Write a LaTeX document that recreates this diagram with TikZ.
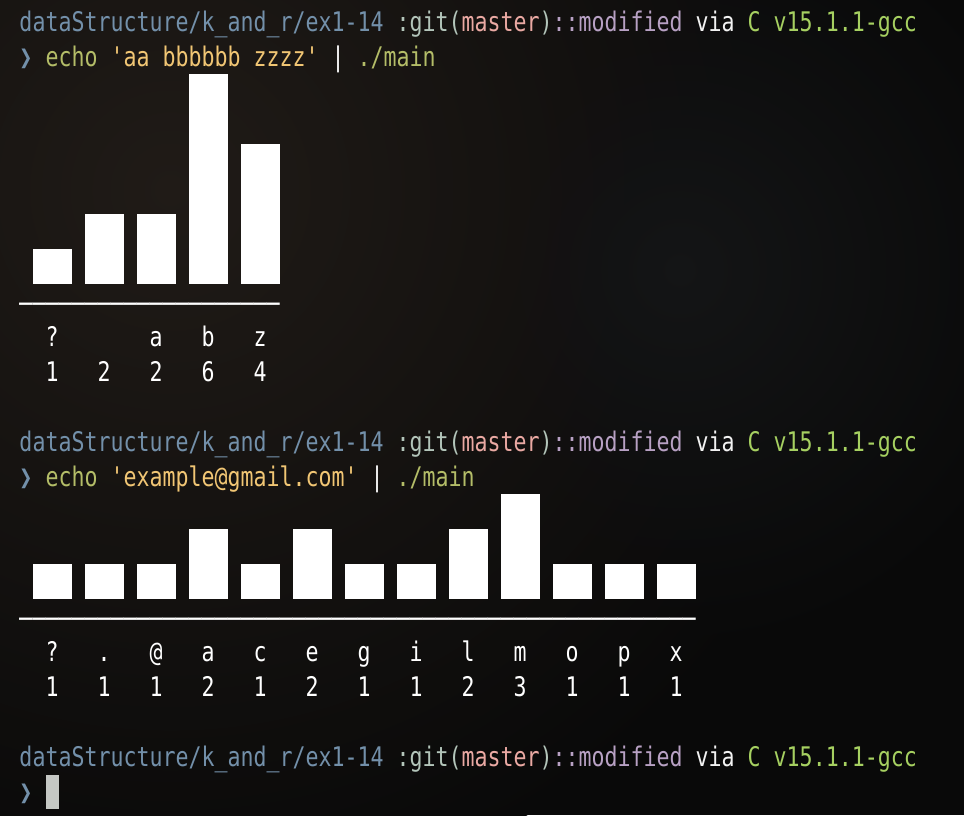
\documentclass[tikz,border=0pt]{standalone}
\usepackage{fontspec}
\newfontfamily\term[FakeStretch=0.8,WordSpace={1,0,0},Ligatures=ResetAll]{DejaVu Sans Mono}
\definecolor{bg}{HTML}{090909}
\definecolor{warm}{HTML}{201B17}
\definecolor{cool}{HTML}{141516}
\definecolor{pathc}{HTML}{7390AA}
\definecolor{gitc}{HTML}{B3C5BA}
\definecolor{masterc}{HTML}{EAA9A3}
\definecolor{modc}{HTML}{B8A1C4}
\definecolor{viac}{HTML}{F2F2F2}
\definecolor{langc}{HTML}{A6D061}
\definecolor{echoc}{HTML}{B4BD68}
\definecolor{strc}{HTML}{F1C674}
\definecolor{cursorc}{HTML}{C5C8C4}
\begin{document}
\begin{tikzpicture}[x=1pt,y=-1pt,
  txt/.style={anchor=base west,inner sep=0pt,outer sep=0pt,text=white,font=\term\fontsize{27}{35}\selectfont},
  bar/.style={fill=white,draw=none}]
\useasboundingbox (0,0) rectangle (964,815);
\fill[bg] (0,0) rectangle (964,815);
\shade[blend mode=lighten,inner color=warm,outer color=bg] (170,190) circle (720);
\shade[blend mode=lighten,inner color=cool,outer color=bg] (680,270) circle (380);
% ---- first command ----
\node[txt,text=pathc] (prompt1) at (19.5,31.5) {dataStructure/k\_and\_r/ex1-14 \textcolor{gitc}{:git(}\textcolor{masterc}{master}\textcolor{gitc}{)}\textcolor{modc}{::modified} \textcolor{viac}{via} \textcolor{langc}{C v15.1.1-gcc}};
\node[txt,text=pathc] (cmd1) at (19.5,66.5) {❯ \textcolor{echoc}{echo} \textcolor{strc}{'aa bbbbbb zzzz'} \textcolor{white}{|} \textcolor{echoc}{./main}};
\foreach \h [count=\i from 0] in {1,2,2,6,4}
  \fill[bar] (32.5+52*\i,284) rectangle (71.5+52*\i,284-35*\h);
\node[txt] (sep1) at (19.5,313) {────────────────────};
\foreach \c/\n [count=\i from 0] in {?/1,{}/2,a/2,b/6,z/4}{
  \node[txt] (lab1-\i) at (45.5+52*\i,346.5) {\c};
  \node[txt] (num1-\i) at (45.5+52*\i,381.5) {\n};
}
% ---- second command ----
\node[txt,text=pathc] (prompt2) at (19.5,451.5) {dataStructure/k\_and\_r/ex1-14 \textcolor{gitc}{:git(}\textcolor{masterc}{master}\textcolor{gitc}{)}\textcolor{modc}{::modified} \textcolor{viac}{via} \textcolor{langc}{C v15.1.1-gcc}};
\node[txt,text=pathc] (cmd2) at (19.5,486.5) {❯ \textcolor{echoc}{echo} \textcolor{strc}{'example@gmail.com'} \textcolor{white}{|} \textcolor{echoc}{./main}};
\foreach \h [count=\i from 0] in {1,1,1,2,1,2,1,1,2,3,1,1,1}
  \fill[bar] (32.5+52*\i,599) rectangle (71.5+52*\i,599-35*\h);
\node[txt] (sep2) at (19.5,628) {────────────────────────────────────────────────────};
\foreach \c/\n [count=\i from 0] in {?/1,./1,@/1,a/2,c/1,e/2,g/1,i/1,l/2,m/3,o/1,p/1,x/1}{
  \node[txt] (lab2-\i) at (45.5+52*\i,661.5) {\c};
  \node[txt] (num2-\i) at (45.5+52*\i,696.5) {\n};
}
% ---- third prompt ----
\node[txt,text=pathc] (prompt3) at (19.5,766.5) {dataStructure/k\_and\_r/ex1-14 \textcolor{gitc}{:git(}\textcolor{masterc}{master}\textcolor{gitc}{)}\textcolor{modc}{::modified} \textcolor{viac}{via} \textcolor{langc}{C v15.1.1-gcc}};
\node[txt,text=pathc] (cmd3) at (19.5,801.5) {❯};
\fill[cursorc] (45.5,774.5) rectangle (58.5,808.5);
\end{tikzpicture}
\end{document}
